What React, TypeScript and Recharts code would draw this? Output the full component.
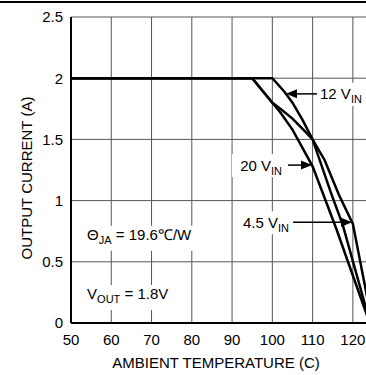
import React from 'react';
import { LineChart, Line, XAxis, YAxis, CartesianGrid, ReferenceDot, Label } from 'recharts';

// derating curves (temperature in C, current in A)
const temps20 = [50, 95, 100, 102, 105, 108, 110, 116, 119, 123, 124.2];
const amps20 = [2, 2, 1.8, 1.72, 1.58, 1.4, 1.28, 0.76, 0.48, 0.11, 0];

const temps12 = [50, 100, 103, 105, 107.5, 110, 114.5, 117.5, 124.3];
const amps12 = [2, 2, 1.89, 1.8, 1.66, 1.5, 1.07, 0.8, 0];

const temps45 = [50, 95, 100, 102, 105, 108, 110, 113, 116.5, 120, 124.8];
const amps45 = [2, 2, 1.8, 1.75, 1.67, 1.57, 1.5, 1.33, 1.05, 0.81, 0];

const xTicks = [50, 60, 70, 80, 90, 100, 110, 120];
const yTicks = [0, 0.5, 1, 1.5, 2, 2.5];

const toRows = (t: number[], a: number[]) => t.map((v, i) => ({ t: v, amps: a[i] }));
const data20 = toRows(temps20, amps20);
const data12 = toRows(temps12, amps12);
const data45 = toRows(temps45, amps45);

const FONT = 15;
const SUB = 11;

// arrow with a "xx V_IN" label; tip sits on the curve
const ArrowNote = ({ cx, cy, text, dir, len, gap, boxW }: any) => {
  const head = 11;
  if (dir === 'left') {
    // label on the right, arrow pointing left
    return (
      <g>
        <rect x={cx + gap - 2} y={cy - 11} width={boxW} height={23} fill="#fff" />
        <line x1={cx + head - 1} y1={cy} x2={cx + len} y2={cy} stroke="#000" strokeWidth={1.5} />
        <polygon points={`${cx},${cy} ${cx + head},${cy - 4.5} ${cx + head},${cy + 4.5}`} fill="#000" />
        <text x={cx + gap} y={cy + 5.5} fontSize={FONT} fill="#000">
          <tspan>{text}</tspan>
          <tspan fontSize={SUB} dy={4}>IN</tspan>
        </text>
      </g>
    );
  }
  return (
    <g>
      <rect x={cx - gap - boxW + 2} y={cy - 11} width={boxW} height={23} fill="#fff" />
      <line x1={cx - len} y1={cy} x2={cx - head + 1} y2={cy} stroke="#000" strokeWidth={1.5} />
      <polygon points={`${cx},${cy} ${cx - head},${cy - 4.5} ${cx - head},${cy + 4.5}`} fill="#000" />
      <text x={cx - gap} y={cy + 5.5} fontSize={FONT} fill="#000" textAnchor="end">
        <tspan>{text}</tspan>
        <tspan fontSize={SUB} dy={4}>IN</tspan>
      </text>
    </g>
  );
};

const App: React.FC = () => {
  return (
    <div
      style={{
        width: 366,
        height: 375,
        overflow: 'hidden',
        position: 'relative',
        background: '#fff',
        fontFamily: '"Liberation Sans", Arial, sans-serif',
      }}
    >
      <style>{'html, body { margin: 0; padding: 0; overflow: hidden; }'}</style>
      <LineChart width={380} height={375} margin={{ top: 17, right: 7, bottom: 0, left: 0 }}>
        <CartesianGrid stroke="#555" strokeWidth={1} />
        <XAxis
          type="number"
          dataKey="t"
          domain={[50, 125]}
          ticks={xTicks}
          allowDataOverflow
          height={52}
          tickLine={false}
          tickMargin={5}
          axisLine={{ stroke: '#000', strokeWidth: 2 }}
          tick={{ fill: '#000', fontSize: FONT }}
        >
          <Label
            content={({ viewBox }: any) => (
              <text x={viewBox.x + 145} y={viewBox.y + 45} fontSize={FONT} fill="#000" textAnchor="middle">
                AMBIENT TEMPERATURE (C)
              </text>
            )}
          />
        </XAxis>
        <YAxis
          type="number"
          domain={[0, 2.5]}
          ticks={yTicks}
          width={71}
          tickLine={false}
          axisLine={{ stroke: '#000', strokeWidth: 2 }}
          tick={{ fill: '#000', fontSize: FONT }}
        >
          <Label
            content={({ viewBox }: any) => (
              <text
                x={32}
                y={viewBox.y + 161}
                fontSize={FONT}
                fill="#000"
                textAnchor="middle"
                transform={`rotate(-90 32 ${viewBox.y + 161})`}
              >
                OUTPUT CURRENT (A)
              </text>
            )}
          />
        </YAxis>

        <Line data={data20} dataKey="amps" type="linear" stroke="#000" strokeWidth={2.5} dot={false} isAnimationActive={false} />
        <Line data={data12} dataKey="amps" type="linear" stroke="#000" strokeWidth={2.5} dot={false} isAnimationActive={false} />
        <Line data={data45} dataKey="amps" type="linear" stroke="#000" strokeWidth={2.5} dot={false} isAnimationActive={false} />

        <ReferenceDot
          x={103.4}
          y={1.872}
          r={0}
          shape={(p: any) => <ArrowNote cx={p.cx} cy={p.cy} text="12 V" dir="left" len={31} gap={34} boxW={70} />}
        />
        <ReferenceDot
          x={109.85}
          y={1.29}
          r={0}
          shape={(p: any) => <ArrowNote cx={p.cx} cy={p.cy} text="20 V" dir="right" len={24} gap={30} boxW={52} />}
        />
        <ReferenceDot
          x={119.8}
          y={0.823}
          r={0}
          shape={(p: any) => <ArrowNote cx={p.cx} cy={p.cy} text="4.5 V" dir="right" len={59} gap={63} boxW={56} />}
        />
        <ReferenceDot
          x={54}
          y={0.68}
          r={0}
          shape={(p: any) => (
            <g>
              <rect x={p.cx - 2} y={p.cy - 14} width={118} height={25} fill="#fff" />
              <text x={p.cx} y={p.cy} fontSize={FONT} fill="#000">
                <tspan>Θ</tspan>
                <tspan fontSize={SUB} dy={4}>JA</tspan>
                <tspan dy={-4}> = 19.6℃/W</tspan>
              </text>
            </g>
          )}
        />
        <ReferenceDot
          x={54}
          y={0.196}
          r={0}
          shape={(p: any) => (
            <g>
              <rect x={p.cx - 2} y={p.cy - 14} width={94} height={25} fill="#fff" />
              <text x={p.cx} y={p.cy} fontSize={FONT} fill="#000">
                <tspan>V</tspan>
                <tspan fontSize={SUB} dy={4}>OUT</tspan>
                <tspan dy={-4}> = 1.8V</tspan>
              </text>
            </g>
          )}
        />
      </LineChart>
      <div style={{ position: 'absolute', top: 1, left: 0, width: 366, height: 0, borderTop: '2px solid #000', zIndex: 2 }} />
    </div>
  );
};

export default App;
